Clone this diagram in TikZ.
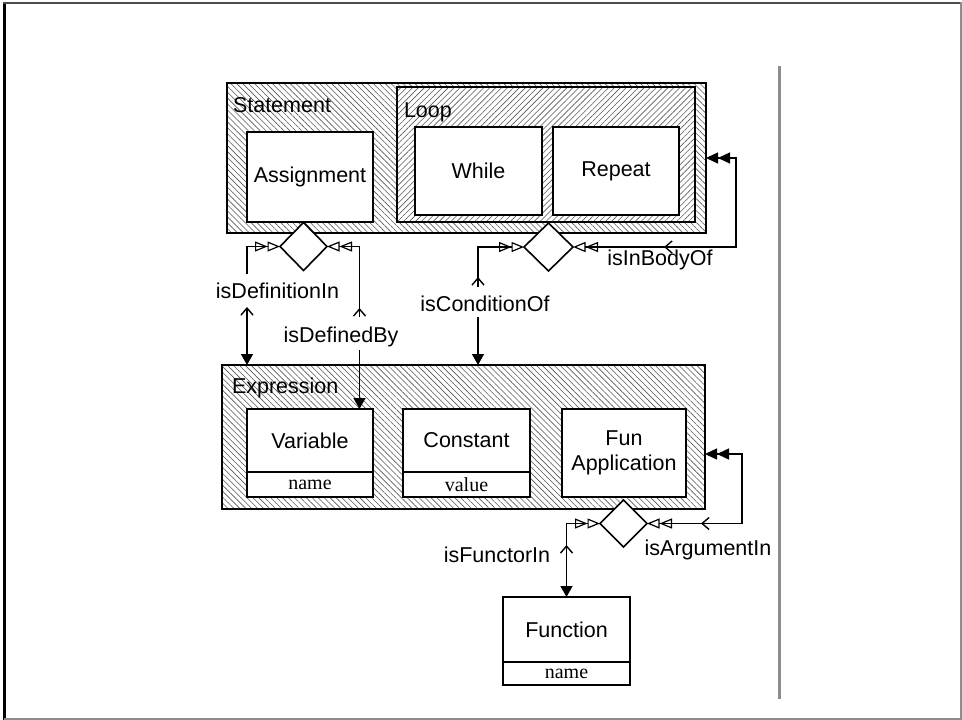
\documentclass[tikz,border=0pt]{standalone}
\usepackage{fontspec}
\setmainfont{Liberation Sans}
\newfontfamily\attrfont{Liberation Serif}
\usetikzlibrary{arrows.meta,shapes.geometric,patterns.meta}
\tikzset{
  aggtip/.tip={Triangle[open,length=12.5pt,width=10pt,line width=1.2pt]Triangle[open,length=12.5pt,width=10pt,line width=1.2pt]},
  filltwo/.tip={Triangle[length=12pt,width=11pt]Triangle[length=12pt,width=11pt]},
  fillone/.tip={Triangle[length=11pt,width=12pt]},
  chevtip/.tip={Straight Barb[length=7pt,width=12pt,line width=1.4pt]},
}
\begin{document}
\begin{tikzpicture}[x=1pt,y=-1pt,
  txt/.style={font=\fontsize{21.5}{25}\selectfont},
  lbl/.style={txt, inner sep=0pt, outer sep=0pt},
  hatchback/.style={draw, line width=1.6pt, inner sep=0pt, outer sep=0pt, preaction={fill=white},
      pattern={Lines[angle=-45,distance=4.2pt,line width=0.6pt]}, pattern color=black!65},
  hatchfwd/.style={draw, line width=1.6pt, inner sep=0pt, outer sep=0pt, preaction={fill=white},
      pattern={Lines[angle=45,distance=4.2pt,line width=0.6pt]}, pattern color=black!65},
  cls/.style={txt, draw, line width=1.6pt, fill=white, inner sep=0pt, outer sep=0pt, align=center, anchor=north west},
  attr/.style={draw, line width=1.6pt, fill=white, inner sep=0pt, outer sep=0pt, anchor=north west,
      font=\attrfont\fontsize{20}{22}\selectfont},
  diam/.style={diamond, draw, fill=white, line width=1.6pt, inner sep=0pt, outer sep=0pt},
  conn/.style={line width=1.4pt},
  frameline/.style={line width=2pt, black!45},
]
\useasboundingbox (0,0) rectangle (962,720);
% page frame and side rule
\draw[line width=3pt, black] (4.5,720) -- (4.5,2.5);
\draw[line width=2pt, black!70] (3,2.5) -- (962,2.5);
\draw[frameline] (961,2) -- (961,719) -- (4,719);
\draw[line width=2.5pt, black!45] (779.5,66) -- (779.5,699);

% Statement
\node[hatchback, minimum width=479pt, minimum height=150pt, anchor=north west] (stmt) at (227,83) {};
\node[lbl, anchor=base west] (stmtlbl) at (233,112) {Statement};
\node[hatchfwd, minimum width=298pt, minimum height=135pt, anchor=north west] (loop) at (397,87) {};
\node[lbl, anchor=base west] (looplbl) at (404,117) {Loop};
\node[cls, minimum width=126pt, minimum height=90pt] (assign) at (247,132) {Assignment};
\node[cls, minimum width=127pt, minimum height=88pt] (while) at (415,127) {While};
\node[cls, minimum width=126pt, minimum height=88pt] (repeat) at (553,127) {Repeat};

% Expression
\node[hatchback, minimum width=483pt, minimum height=144pt, anchor=north west] (expr) at (222,365) {};
\node[lbl, anchor=base west] (exprlbl) at (232,393) {Expression};
\node[cls, minimum width=126pt, minimum height=63pt] (var) at (247,409) {Variable};
\node[attr, minimum width=126pt, minimum height=25pt] (varattr) at (247,472) {name};
\node[cls, minimum width=127pt, minimum height=63pt] (const) at (403,409) {Constant};
\node[attr, minimum width=127pt, minimum height=25pt] (constattr) at (403,472) {value};
\node[cls, minimum width=124pt, minimum height=88pt] (funapp) at (562,409) {Fun\\Application};

% Function
\node[cls, minimum width=127pt, minimum height=65pt] (func) at (503,597) {Function};
\node[attr, minimum width=127pt, minimum height=23pt] (funcattr) at (503,662) {name};

% aggregation diamonds
\node[diam, minimum width=47pt, minimum height=48pt] (d1) at (303.5,246.5) {};
\node[diam, minimum width=49pt, minimum height=48pt] (d2) at (548.5,247) {};
\node[diam, minimum width=47pt, minimum height=47pt] (d3) at (623.5,523.5) {};

% isDefinitionIn
\coordinate (e1) at (247,365);
\coordinate (c1) at (247,307);
\coordinate (u1) at (247,274);
\draw[conn, {fillone}-{chevtip}] (e1) -- (c1);
\draw[conn, -{aggtip}] (u1) |- (d1.west);
\node[lbl] (l1) at (277.5,291) {isDefinitionIn};

% isDefinedBy
\coordinate (e2) at (359.5,409);
\coordinate (b2) at (359.5,350);
\coordinate (u2) at (359.5,317);
\coordinate (c2) at (359.5,308);
\draw[conn, {fillone}-] (e2) -- (b2);
\draw[conn, -{aggtip}] (u2) |- (d1.east);
\draw[conn, -{chevtip}] (u2) -- (c2);
\node[lbl] (l2) at (341,337) {isDefinedBy};

% isConditionOf
\coordinate (e3) at (478,365);
\coordinate (b3) at (478,317);
\coordinate (u3) at (478,287);
\coordinate (c3) at (478,277);
\draw[conn, {fillone}-] (e3) -- (b3);
\draw[conn, -{aggtip}] (u3) |- (d2.west);
\draw[conn, -{chevtip}] (u3) -- (c3);
\node[lbl] (l3) at (485,304) {isConditionOf};

% isInBodyOf
\coordinate (r4) at (736,158);
\coordinate (u4) at (674,247);
\coordinate (c4) at (664,247);
\draw[conn, {filltwo}-{aggtip}] (stmt.east) -- (r4) |- (d2.east);
\draw[conn, -{chevtip}] (u4) -- (c4);
\node[lbl] (l4) at (660,260) {isInBodyOf};

% isFunctorIn
\coordinate (u5) at (566.5,555);
\coordinate (c5) at (566.5,545);
\draw[conn, {fillone}-{aggtip}] (func.north) |- (d3.west);
\draw[conn, -{chevtip}] (u5) -- (c5);
\node[lbl] (l5) at (497,555) {isFunctorIn};

% isArgumentIn
\coordinate (s6) at (705,454);
\coordinate (r6) at (742,454);
\coordinate (u6) at (711,523.5);
\coordinate (c6) at (701,523.5);
\draw[conn, {filltwo}-{aggtip}] (s6) -- (r6) |- (d3.east);
\draw[conn, -{chevtip}] (u6) -- (c6);
\node[lbl] (l6) at (708,550) {isArgumentIn};
\end{tikzpicture}
\end{document}
